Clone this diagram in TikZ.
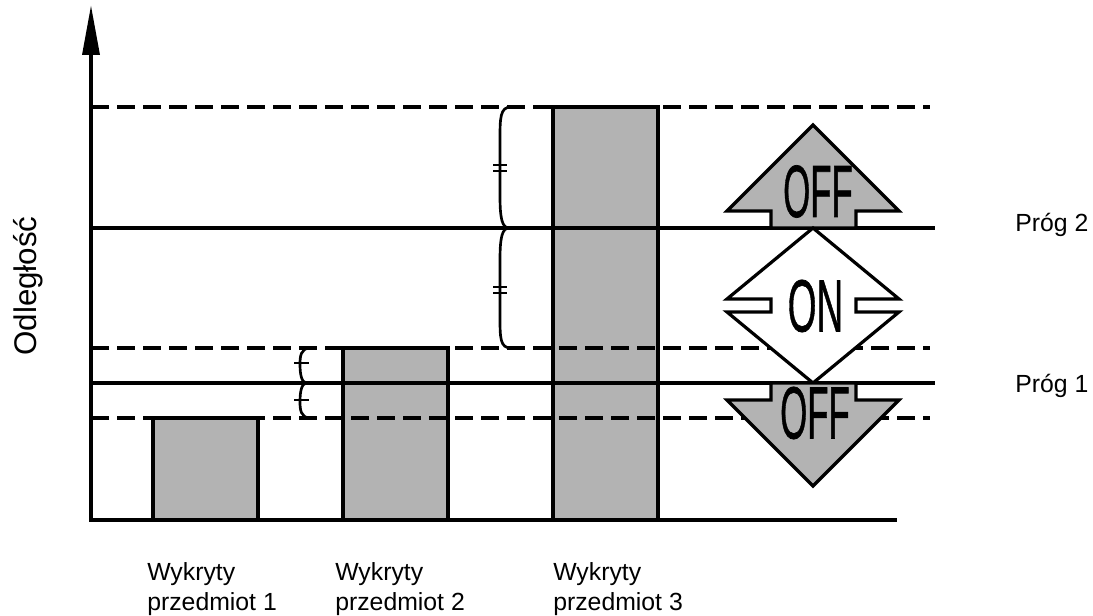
\documentclass[tikz,border=0pt]{standalone}
\usepackage{fontspec}
\setmainfont{Liberation Sans}
\newfontfamily\signfont[FakeBold=1]{Liberation Sans}
\definecolor{bargray}{RGB}{179,179,179}
\begin{document}
\begin{tikzpicture}[x=0.75pt,y=-0.75pt,
  axisline/.style={line width=2.8pt},
  levelline/.style={line width=2.6pt},
  dashline/.style={line width=2.6pt, dash pattern=on 13.5pt off 6pt},
  barbox/.style={draw, fill=bargray, line width=2.4pt},
  signbox/.style={draw, line width=2.4pt, line join=miter},
  bracepath/.style={line width=2pt},
  lbl/.style={font=\fontsize{18.6}{20.25}\selectfont, inner sep=0pt},
  signtext/.style={font=\signfont\fontsize{55.5}{60}\selectfont, inner sep=0pt},
]
\useasboundingbox (0,0) rectangle (1093,616);

% detected objects
\draw[barbox] (153,418) rectangle (258,520);
\draw[barbox] (343,348) rectangle (448,520);
\draw[barbox] (553,107) rectangle (658,520);

% distance levels
\draw[dashline] (91,107) -- (930,107);
\draw[levelline] (91,228) -- (935,228);
\draw[dashline] (91,348) -- (930,348);
\draw[levelline] (91,383) -- (935,383);
\draw[dashline] (91,418) -- (930,418);

% axes
\coordinate (origin) at (91,520);
\coordinate (ytop) at (91,55);
\coordinate (xend) at (897,520);
\draw[axisline] (ytop) -- (origin) -- (xend);
\fill (82,55) -- (91,6) -- (100,55) -- cycle;

% hysteresis braces at threshold 2
\draw[bracepath] (511,107) .. controls (500,107) and (500,118) .. (500,140)
  -- (500,196) .. controls (500,218) and (502,228) .. (509,228);
\draw[bracepath] (509,228) .. controls (502,228) and (500,238) .. (500,260)
  -- (500,316) .. controls (500,338) and (500,348) .. (511,348);
\draw[bracepath] (493,165) -- (507,165) (493,171) -- (507,171)
  (493,287) -- (507,287) (493,293) -- (507,293);

% hysteresis braces at threshold 1
\draw[bracepath] (309,348) .. controls (301,349) and (300,356) .. (300,364)
  .. controls (300,376) and (302,383) .. (307,383);
\draw[bracepath] (307,383) .. controls (302,383) and (300,390) .. (300,402)
  .. controls (300,410) and (301,417) .. (309,418);
\draw[bracepath] (294,363) -- (309,363) (294,400) -- (309,400);

% switching state signs
\draw[signbox, fill=bargray] (813,125) -- (899,211) -- (856,211) -- (856,228)
  -- (771,228) -- (771,211) -- (727,211) -- cycle;
\draw[signbox, fill=white] (813,228) -- (899,299) -- (856,299) -- (856,312)
  -- (899,312) -- (813,383) -- (727,312) -- (771,312) -- (771,299)
  -- (727,299) -- cycle;
\draw[signbox, fill=bargray] (813,486) -- (899,400) -- (856,400) -- (856,383)
  -- (771,383) -- (771,400) -- (727,400) -- cycle;
\node[signtext] (offup) at (818,191.5) {\scalebox{0.47}[1]{OFF}};
\node[signtext] (on) at (815.5,306) {\scalebox{0.5}[1]{ON}};
\node[signtext] (offdown) at (815,413) {\scalebox{0.47}[1]{OFF}};

% labels
\node[lbl, anchor=base west] (prog2) at (1015,232) {Próg 2};
\node[lbl, anchor=base west] (prog1) at (1015,393) {Próg 1};
\node[font=\fontsize{23.5}{26}\selectfont, inner sep=0pt, rotate=90] (dist) at (28,286) {Odległość};
\node[lbl, anchor=north west, align=left] (obj1) at (147,562) {Wykryty\\[2.5pt]przedmiot 1};
\node[lbl, anchor=north west, align=left] (obj2) at (335,562) {Wykryty\\[2.5pt]przedmiot 2};
\node[lbl, anchor=north west, align=left] (obj3) at (553,562) {Wykryty\\[2.5pt]przedmiot 3};
\end{tikzpicture}
\end{document}
